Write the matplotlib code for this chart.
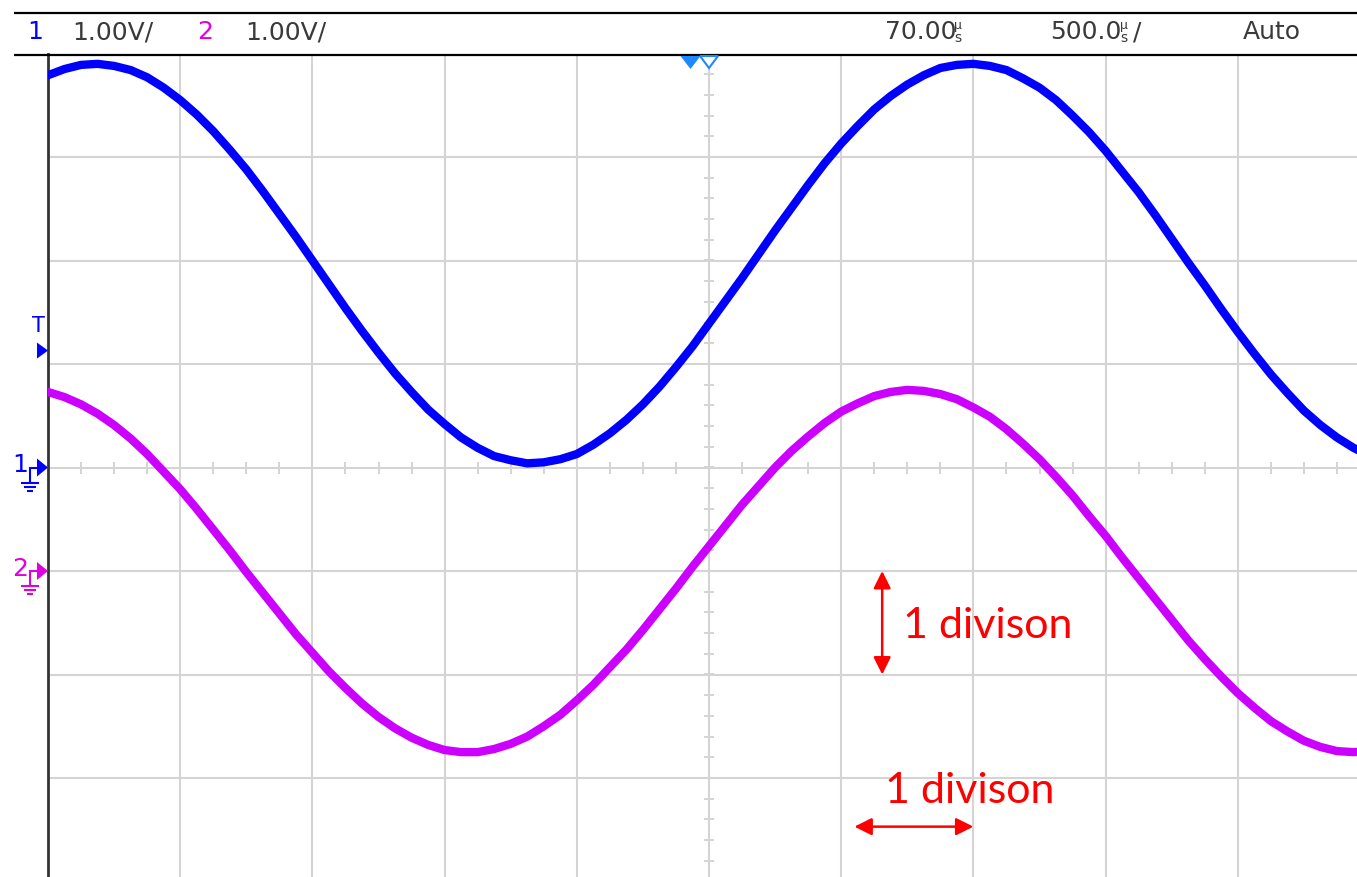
import matplotlib.pyplot as plt
import numpy as np
from matplotlib.lines import Line2D
from matplotlib.patches import Polygon
from matplotlib.transforms import IdentityTransform

W, H = 1357, 877

# Trace readings in divisions, sampled every 1/8 division across the screen
t_div = np.linspace(0, 10, 81)
ch1 = [3.79, 3.85, 3.89, 3.90, 3.88, 3.84, 3.77, 3.67, 3.55, 3.41,
       3.25, 3.07, 2.88, 2.67, 2.45, 2.23, 2.00, 1.77, 1.54, 1.32,
       1.11, 0.91, 0.73, 0.56, 0.42, 0.29, 0.19, 0.11, 0.07, 0.04,
       0.05, 0.08, 0.13, 0.22, 0.33, 0.46, 0.61, 0.78, 0.97, 1.17,
       1.39, 1.61, 1.83, 2.06, 2.29, 2.51, 2.73, 2.94, 3.13, 3.30,
       3.46, 3.59, 3.70, 3.79, 3.86, 3.89, 3.90, 3.88, 3.84, 3.76,
       3.67, 3.55, 3.40, 3.24, 3.06, 2.86, 2.66, 2.44, 2.21, 1.98,
       1.76, 1.53, 1.31, 1.10, 0.90, 0.72, 0.55, 0.41, 0.29, 0.19, 0.11]
ch2 = [0.73, 0.68, 0.61, 0.52, 0.41, 0.28, 0.13, -0.04, -0.21, -0.40,
       -0.60, -0.80, -1.01, -1.21, -1.41, -1.61, -1.79, -1.97, -2.13, -2.28,
       -2.41, -2.52, -2.61, -2.68, -2.73, -2.75, -2.75, -2.72, -2.67, -2.60,
       -2.50, -2.39, -2.25, -2.10, -1.93, -1.76, -1.57, -1.37, -1.17, -0.96,
       -0.76, -0.56, -0.36, -0.18, 0.00, 0.16, 0.30, 0.43, 0.54, 0.62,
       0.69, 0.73, 0.75, 0.74, 0.71, 0.66, 0.58, 0.49, 0.37, 0.23,
       0.08, -0.09, -0.27, -0.47, -0.66, -0.87, -1.07, -1.27, -1.47, -1.67,
       -1.85, -2.02, -2.18, -2.32, -2.45, -2.55, -2.64, -2.70, -2.74, -2.75, -2.74]

ch1_ground = 0.0
ch2_ground = -1.0
trig_level = 1.13
trig_pos = 4.86

ch_names = ["1", "2"]
volts_div = ["1.00V/", "1.00V/"]
delay = "70.00"
time_div = "500.0"
mode = "Auto"

BLUE = "#0000ff"
MAGENTA = "#cc00ff"
MAG_TXT = "#e000e0"
GRID = "#d4d4d4"
TXT = "#3a3a3a"
TRIG = "#1e88ff"
SCOPE_FONT = ["DejaVu Sans"]

fig = plt.figure(figsize=(W / 100, H / 100), dpi=100)
fig.patch.set_facecolor("white")

ax = fig.add_axes([48 / W, 1 - 881.5 / H, 1322 / W, 828 / H])
ax.set_xlim(0, 10)
ax.set_ylim(-4, 4)
ax.set_xticks(np.arange(0, 11))
ax.set_yticks(np.arange(-4, 5))
ax.grid(True, color=GRID, lw=1.5)
ax.set_axisbelow(True)
ax.tick_params(length=0, labelbottom=False, labelleft=False)
for side in ["top", "right", "bottom"]:
    ax.spines[side].set_visible(False)
ax.spines["left"].set_color("#333333")
ax.spines["left"].set_linewidth(2)

# minor ticks along the centre cross
hx = np.arange(0, 10.01, 0.25)
ax.plot(hx, np.zeros_like(hx), ls="none", marker="|", ms=8.5, mew=1.4, color=GRID, zorder=1)
vy = np.arange(-4, 4.01, 0.2)
ax.plot(np.full_like(vy, 5.0), vy, ls="none", marker="_", ms=7.5, mew=1.4, color=GRID, zorder=1)

# traces
ax.plot(t_div, ch2, color=MAGENTA, lw=6, solid_joinstyle="round", zorder=3)
ax.plot(t_div, ch1, color=BLUE, lw=6, solid_joinstyle="round", zorder=3)


def add_line(xs, ys, color, lw=1.5):
    fig.add_artist(Line2D(xs, ys, color=color, lw=lw, transform=IdentityTransform(),
                          solid_capstyle="butt"))


def add_poly(pts, face, edge=None, lw=0):
    fig.add_artist(Polygon(pts, closed=True, facecolor=face, edgecolor=edge or face,
                           lw=lw, transform=IdentityTransform(), zorder=5))


def ftext(x, y, s, size, color, ha="left", family=SCOPE_FONT):
    # x, y in image pixels from the top-left corner
    fig.text(x / W, 1 - y / H, s, fontsize=size, color=color, ha=ha, va="center",
             family=family)


# header bar
add_line([14, W], [H - 13, H - 13], "black", lw=1.6)
add_line([14, W], [H - 55, H - 55], "black", lw=1.6)
ftext(27, 32, ch_names[0], 18, BLUE)
ftext(72, 32, volts_div[0], 18, TXT)
ftext(197, 32, ch_names[1], 18, MAG_TXT)
ftext(245, 32, volts_div[1], 18, TXT)
ftext(885, 32, delay, 18, TXT)
ftext(954, 25, "µ", 9, TXT)
ftext(954, 38, "s", 10, TXT)
ftext(1050, 32, time_div, 18, TXT)
ftext(1120, 25, "µ", 9, TXT)
ftext(1120, 38, "s", 10, TXT)
ftext(1133, 32, "/", 18, TXT)
ftext(1243, 32, mode, 18, TXT)

# trigger position markers on the top edge
tx = ax.transData.transform((trig_pos, 0))[0]
cx = ax.transData.transform((5, 0))[0]
top = H - 56
add_poly([(tx - 10, top), (tx + 10, top), (tx, top - 13)], TRIG)
add_poly([(cx - 9, top), (cx + 9, top), (cx, top - 12)], "white", TRIG, lw=1.5)


def ground_marker(level, color, label):
    x0, y0 = ax.transData.transform((0, level))
    add_poly([(x0 - 11, y0 + 9), (x0 - 11, y0 - 9), (x0, y0)], color)
    add_line([x0 - 18, x0 - 11], [y0, y0], color)
    add_line([x0 - 18, x0 - 18], [y0 + 0.7, y0 - 15], color)
    add_line([x0 - 27, x0 - 9], [y0 - 15, y0 - 15], color)
    add_line([x0 - 24, x0 - 12], [y0 - 19, y0 - 19], color)
    add_line([x0 - 21, x0 - 15], [y0 - 23, y0 - 23], color)
    fig.text((x0 - 28) / W, (y0 + 2) / H, label, fontsize=18, color=color,
             ha="center", va="center", family=SCOPE_FONT)


ground_marker(ch1_ground, BLUE, ch_names[0])
ground_marker(ch2_ground, MAG_TXT, ch_names[1])

# trigger level marker
x0, y0 = ax.transData.transform((0, trig_level))
add_poly([(x0 - 11, y0 + 8), (x0 - 11, y0 - 8), (x0, y0)], BLUE)
fig.text((x0 - 10) / W, (y0 + 25) / H, "T", fontsize=15, color=BLUE,
         ha="center", va="center", family=SCOPE_FONT)

# red "1 division" annotations
arrow = dict(arrowstyle="<|-|>", color="red", lw=1.8, mutation_scale=26,
             shrinkA=0, shrinkB=0)
ax.annotate("", xy=(6.31, -1.0), xytext=(6.31, -2.0), arrowprops=arrow, zorder=6)
ax.annotate("", xy=(6.10, -3.47), xytext=(7.00, -3.47), arrowprops=arrow, zorder=6)
ax.text(6.47, -1.645, "1 divison", fontsize=31, color="red", family=["Lato"],
        va="baseline", ha="left", zorder=6)
ax.text(6.33, -3.242, "1 divison", fontsize=31, color="red", family=["Lato"],
        va="baseline", ha="left", zorder=6)

fig.savefig("out.png", dpi=100)
